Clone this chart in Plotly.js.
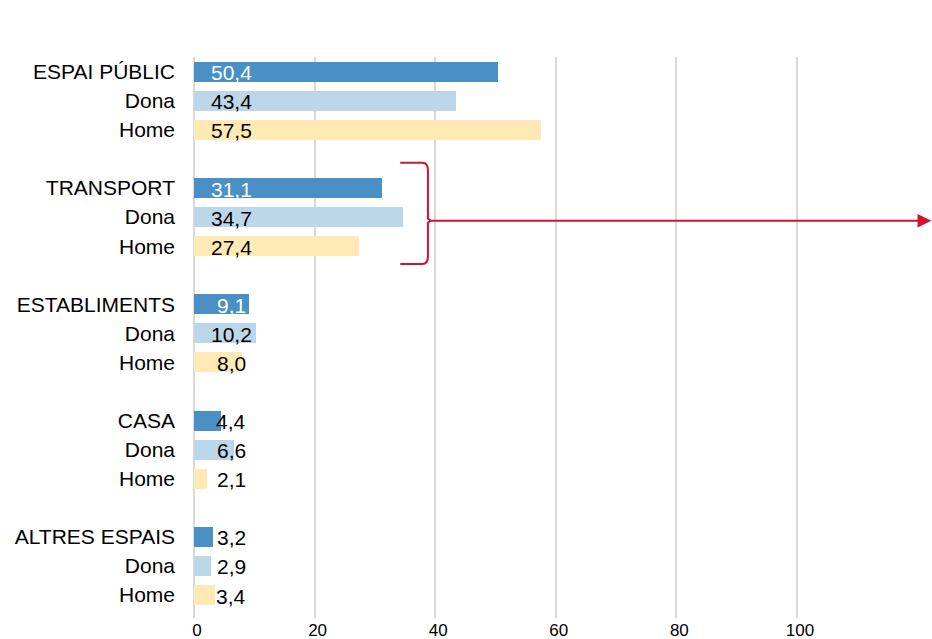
<!DOCTYPE html>
<html>
<head>
<meta charset="utf-8">
<script src="https://cdn.plot.ly/plotly-3.0.1.min.js"></script>
<style>html,body{margin:0;padding:0;background:#fff;}#chart{width:932px;height:639px;}</style>
</head>
<body>
<div id="chart"></div>
<script>
// Data
const groups = ["ESPAI PÚBLIC", "TRANSPORT", "ESTABLIMENTS", "CASA", "ALTRES ESPAIS"];
const subLabels = ["Dona", "Home"];
const totalValues = [50.4, 31.1, 9.1, 4.4, 3.2];
const donaValues = [43.4, 34.7, 10.2, 6.6, 2.9];
const homeValues = [57.5, 27.4, 8.0, 2.1, 3.4];
const xTicks = [0, 20, 40, 60, 80, 100];

// Row positions: each group occupies 3 rows plus one empty row
const rowOf = (g, i) => g * 4 + i;
const yTotal = groups.map((_, g) => rowOf(g, 0));
const yDona = groups.map((_, g) => rowOf(g, 1));
const yHome = groups.map((_, g) => rowOf(g, 2));

const tickvals = [], ticktext = [];
groups.forEach((name, g) => {
  tickvals.push(rowOf(g, 0)); ticktext.push(name);
  subLabels.forEach((s, i) => { tickvals.push(rowOf(g, i + 1)); ticktext.push(s); });
});

const fmt = v => v.toFixed(1).replace('.', ',');
const FONT = '"Liberation Sans", Arial, sans-serif';
const barW = 0.69;

const traces = [
  {type: 'bar', orientation: 'h', x: totalValues, y: yTotal, width: barW,
   marker: {color: '#4A90C4'}, hoverinfo: 'skip', showlegend: false},
  {type: 'bar', orientation: 'h', x: donaValues, y: yDona, width: barW,
   marker: {color: '#BDD7EA'}, hoverinfo: 'skip', showlegend: false},
  {type: 'bar', orientation: 'h', x: homeValues, y: yHome, width: barW,
   marker: {color: '#FFEAB5'}, hoverinfo: 'skip', showlegend: false}
];

const annotations = [];
const addLabels = (vals, ys, isTotal) => {
  vals.forEach((v, k) => {
    annotations.push({
      x: 0, y: ys[k], xref: 'x', yref: 'y', text: fmt(v), showarrow: false,
      xanchor: 'center', yanchor: 'middle', xshift: 37, yshift: -1,
      font: {family: FONT, size: 21, color: (isTotal && v > 8) ? '#FFFFFF' : '#000000'}
    });
  });
};
addLabels(totalValues, yTotal, true);
addLabels(donaValues, yDona, false);
addLabels(homeValues, yHome, false);

const red = '#D0142C';
const shapes = [
  // bracket around TRANSPORT group
  {type: 'path', xref: 'x', yref: 'y',
   path: 'M 34.2,3.13 L 37.9,3.13 Q 38.8,3.13 38.8,3.4 L 38.8,5.05 L 39.2,5.12 L 38.8,5.2 L 38.8,6.35 Q 38.8,6.615 37.9,6.615 L 34.2,6.615',
   line: {color: red, width: 2}},
  // arrow line
  {type: 'line', xref: 'x', yref: 'y', x0: 39.0, x1: 120.5, y0: 5.125, y1: 5.125,
   line: {color: red, width: 2}},
  // arrow head
  {type: 'path', xref: 'x', yref: 'y',
   path: 'M 120.0,4.89 L 122.3,5.125 L 120.0,5.36 Z',
   fillcolor: red, line: {color: red, width: 0}}
];

const layout = {
  width: 932, height: 639,
  margin: {l: 194, r: 0, t: 57, b: 21, pad: 0},
  paper_bgcolor: '#FFFFFF', plot_bgcolor: '#FFFFFF',
  font: {family: FONT, color: '#000000'},
  bargap: 0,
  xaxis: {
    range: [0, 122.4], autorange: false,
    tickvals: xTicks, ticktext: xTicks.map(String),
    showgrid: true, gridcolor: '#D9D9D9', gridwidth: 2,
    zeroline: true, zerolinecolor: '#D9D9D9', zerolinewidth: 2,
    showline: false, ticks: '',
    tickfont: {family: FONT, size: 17, color: '#000000'},
    ticklabelstandoff: 0, ticklabelshift: 3,
    fixedrange: true
  },
  yaxis: {
    range: [18.79, -0.506], autorange: false,
    tickvals: tickvals, ticktext: ticktext,
    showgrid: false, zeroline: false, showline: false, ticks: '',
    tickfont: {family: FONT, size: 21, color: '#000000'},
    ticklabelstandoff: 18,
    fixedrange: true
  },
  annotations: annotations,
  shapes: shapes,
  showlegend: false
};

Plotly.newPlot('chart', traces, layout, {displayModeBar: false, staticPlot: true});
</script>
</body>
</html>
